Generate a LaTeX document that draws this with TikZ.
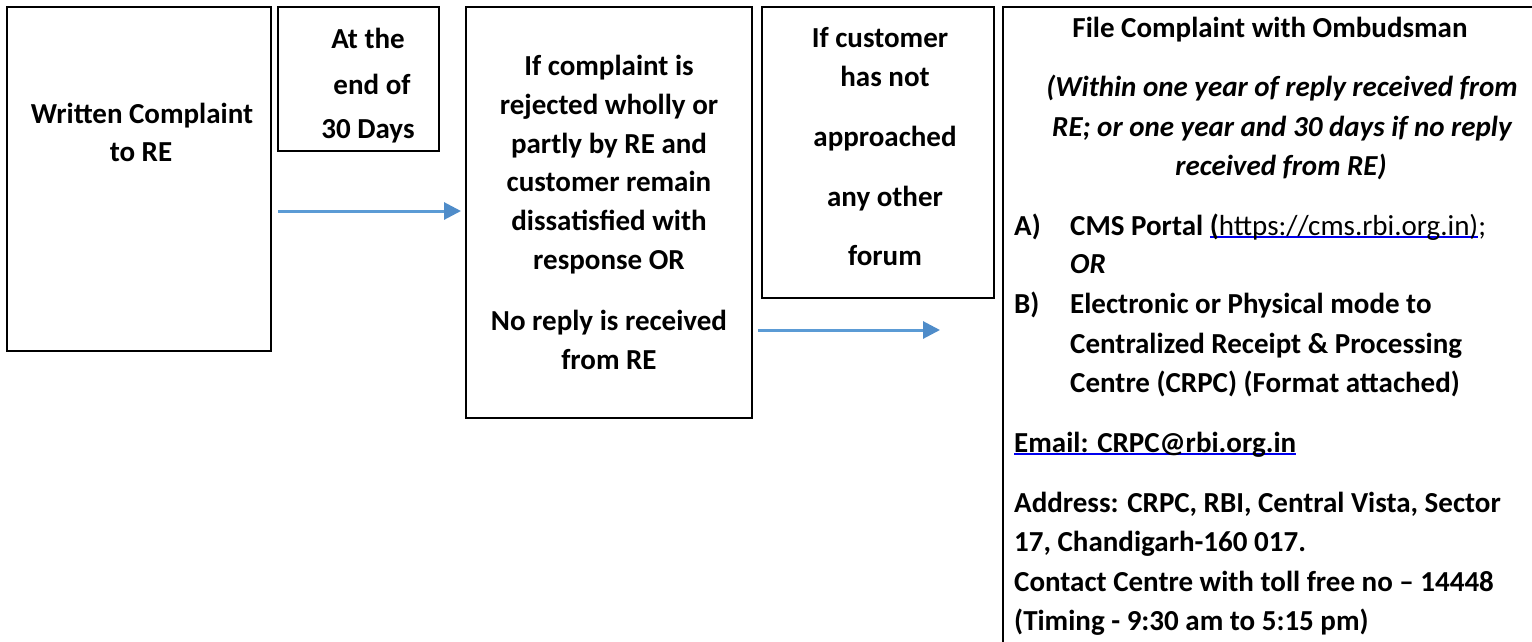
\documentclass[tikz,border=0pt]{standalone}
\usepackage{fontspec}
\setmainfont{Carlito}
\usetikzlibrary{arrows.meta}
\definecolor{arrowblue}{HTML}{5B9BD5}
\definecolor{headblue}{HTML}{4F8CC9}
\definecolor{linkblue}{HTML}{0000EE}
\newsavebox\ulbox
\newcommand\blueul[1]{\sbox\ulbox{#1}\rlap{\color{linkblue}\rule[-3pt]{\wd\ulbox}{1.6pt}}\usebox\ulbox}
\begin{document}
\begin{tikzpicture}[x=1pt,y=-1pt,
  box/.style={draw=black, line width=2.5pt, anchor=north west, inner sep=0pt, outer sep=0pt},
  txt/.style={anchor=base, inner sep=0pt, font=\fontsize{29}{35}\selectfont\bfseries},
  ltxt/.style={txt, anchor=base west},
  itx/.style={txt, font=\fontsize{29}{35}\selectfont\bfseries\itshape},
  flow/.style={draw=arrowblue, line width=3pt, -{Triangle[length=17pt,width=17pt,color=headblue]}}]
\useasboundingbox (0,0) rectangle (1532,641);
\clip (0,0) rectangle (1532,641);
\fill[white] (0,0) rectangle (1532,641);
% boxes
\node[box, minimum width=264pt, minimum height=344pt] (b1) at (7,7) {};
\node[box, minimum width=161pt, minimum height=144pt] (b2) at (278,7) {};
\node[box, minimum width=286pt, minimum height=411pt] (b3) at (466,7) {};
\node[box, minimum width=232pt, minimum height=291pt] (b4) at (762,7) {};
\node[box, minimum width=600pt, minimum height=700pt] (b5) at (1003,7) {};
% box 1
\node[txt] (t1a) at (142,123) {Written Complaint};
\node[txt] (t1b) at (141,161) {to RE};
% box 2
\node[txt] (t2a) at (368,48) {At the};
\node[txt] (t2b) at (372,94) {end of};
\node[txt] (t2c) at (368,138) {30 Days};
% box 3
\node[txt] (t3a) at (609,75) {If complaint is};
\node[txt] (t3b) at (609,114) {rejected wholly or};
\node[txt] (t3c) at (609,153) {partly by RE and};
\node[txt] (t3d) at (609,191) {customer remain};
\node[txt] (t3e) at (609,230) {dissatisfied with};
\node[txt] (t3f) at (609,269) {response OR};
\node[txt] (t3g) at (609,330) {No reply is received};
\node[txt] (t3h) at (609,369) {from RE};
% box 4
\node[txt] (t4a) at (880,47) {If customer};
\node[txt] (t4b) at (885,86) {has not};
\node[txt] (t4c) at (885,146) {approached};
\node[txt] (t4d) at (885,206) {any other};
\node[txt] (t4e) at (885,265) {forum};
% box 5
\node[txt] (t5a) at (1270,37) {File Complaint with Ombudsman};
\node[itx] (t5b) at (1282,96) {(Within one year of reply received from};
\node[itx] (t5c) at (1282,136) {RE; or one year and 30 days if no reply};
\node[itx] (t5d) at (1281,175) {received from RE)};
\node[ltxt] (t5e) at (1014,235) {A)};
\node[ltxt] (t5f) at (1070,235) {CMS Portal \blueul{(\mdseries https://cms.rbi.org.in)}{\mdseries ;}};
\node[ltxt, font=\fontsize{29}{35}\selectfont\bfseries\itshape] (t5g) at (1070,273) {OR};
\node[ltxt] (t5h) at (1014,313) {B)};
\node[ltxt] (t5i) at (1070,313) {Electronic or Physical mode to};
\node[ltxt] (t5j) at (1070,353) {Centralized Receipt \& Processing};
\node[ltxt] (t5k) at (1070,392) {Centre (CRPC) (Format attached)};
\node[ltxt] (t5l) at (1014,452) {\blueul{Email: CRPC@rbi.org.in}};
\node[ltxt] (t5m) at (1014,512) {Address: CRPC, RBI, Central Vista, Sector};
\node[ltxt] (t5n) at (1014,551) {17, Chandigarh-160 017.};
\node[ltxt] (t5o) at (1014,591) {Contact Centre with toll free no – 14448};
\node[ltxt] (t5p) at (1014,630) {(Timing - 9:30 am to 5:15 pm)};
% arrows
\coordinate (a1s) at (278,211);
\coordinate (a1e) at (461,211);
\coordinate (a2s) at (758,330);
\coordinate (a2e) at (940,330);
\draw[flow] (a1s) -- (a1e);
\draw[flow] (a2s) -- (a2e);
\end{tikzpicture}
\end{document}
